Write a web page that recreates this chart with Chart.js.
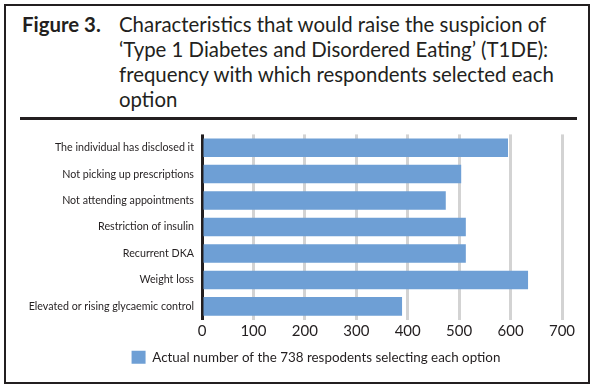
<!DOCTYPE html>
<html><head><meta charset="utf-8">
<script src="https://cdn.jsdelivr.net/npm/chart.js@4.4.0/dist/chart.umd.min.js"></script>
<style>
html,body{margin:0;padding:0;background:#fff;}
body{width:597px;height:391px;position:relative;overflow:hidden;font-family:Lato,sans-serif;color:#231f20;}
#frame{position:absolute;left:4px;top:4px;width:582px;height:376px;border:2px solid #231f20;}
#title{position:absolute;left:22px;top:12px;font-size:20.4px;line-height:25px;}
#title b{position:absolute;left:0;top:0;white-space:nowrap;}
#title .t{position:absolute;left:97px;top:0;white-space:nowrap;}
#rule{position:absolute;left:20px;top:117px;width:557px;height:3px;background:#231f20;}
#wrap{position:absolute;left:0;top:120px;width:620px;height:262px;}
</style></head>
<body>
<div id="frame"></div>
<div id="title"><b>Figure 3.</b><div class="t">Characteristics that would raise the suspicion of<br>‘Type 1 Diabetes and Disordered Eating’ (T1DE):<br>frequency with which respondents selected each<br>option</div></div>
<div id="rule"></div>
<div id="wrap"><canvas id="c" width="620" height="262"></canvas></div>
<script>
const categories = [
  'The individual has disclosed it',
  'Not picking up prescriptions',
  'Not attending appointments',
  'Restriction of insulin',
  'Recurrent DKA',
  'Weight loss',
  'Elevated or rising glycaemic control'
];
const values = [595, 504, 474, 513, 513, 634, 389];
const seriesLabel = 'Actual number of the 738 respodents selecting each option';
const xMin = 0, xMax = 700, xStep = 100;

const textColor = '#231f20';
new Chart(document.getElementById('c'), {
  type: 'bar',
  data: {
    labels: categories,
    datasets: [{
      label: seriesLabel,
      data: values,
      backgroundColor: '#6e9fd5',
      borderWidth: 0,
      barPercentage: 0.70,
      categoryPercentage: 1.0
    }]
  },
  options: {
    indexAxis: 'y',
    responsive: false,
    devicePixelRatio: 1,
    animation: false,
    layout: { padding: { left: 20, right: 8, top: 11, bottom: 8 } },
    plugins: {
      tooltip: { enabled: false },
      legend: {
        position: 'bottom',
        labels: {
          boxWidth: 14, boxHeight: 13, padding: 7,
          color: textColor,
          font: { family: 'Lato', size: 13.4 }
        }
      }
    },
    scales: {
      x: {
        min: xMin, max: xMax,
        ticks: { stepSize: xStep, color: textColor, font: { family: 'Lato', size: 15 }, padding: 3 },
        grid: {
          drawTicks: false,
          lineWidth: 3,
          color: (ctx) => (ctx.tick && ctx.tick.value === 0) ? '#231f20' : '#d3d3d3'
        },
        border: { display: false },
        afterFit: (s) => { s.height = 24; }
      },
      y: {
        ticks: { color: textColor, font: { family: 'Lato', size: 10.7 }, padding: 8 },
        grid: { display: false, drawTicks: false },
        border: { display: false },
        afterFit: (s) => { s.width = 182; }
      },
      y2: {
        type: 'category',
        position: 'right',
        display: true,
        ticks: { display: false },
        grid: { display: false, drawTicks: false },
        border: { display: false },
        afterFit: (s) => { s.width = 50; }
      }
    }
  }
});
</script>
</body></html>
